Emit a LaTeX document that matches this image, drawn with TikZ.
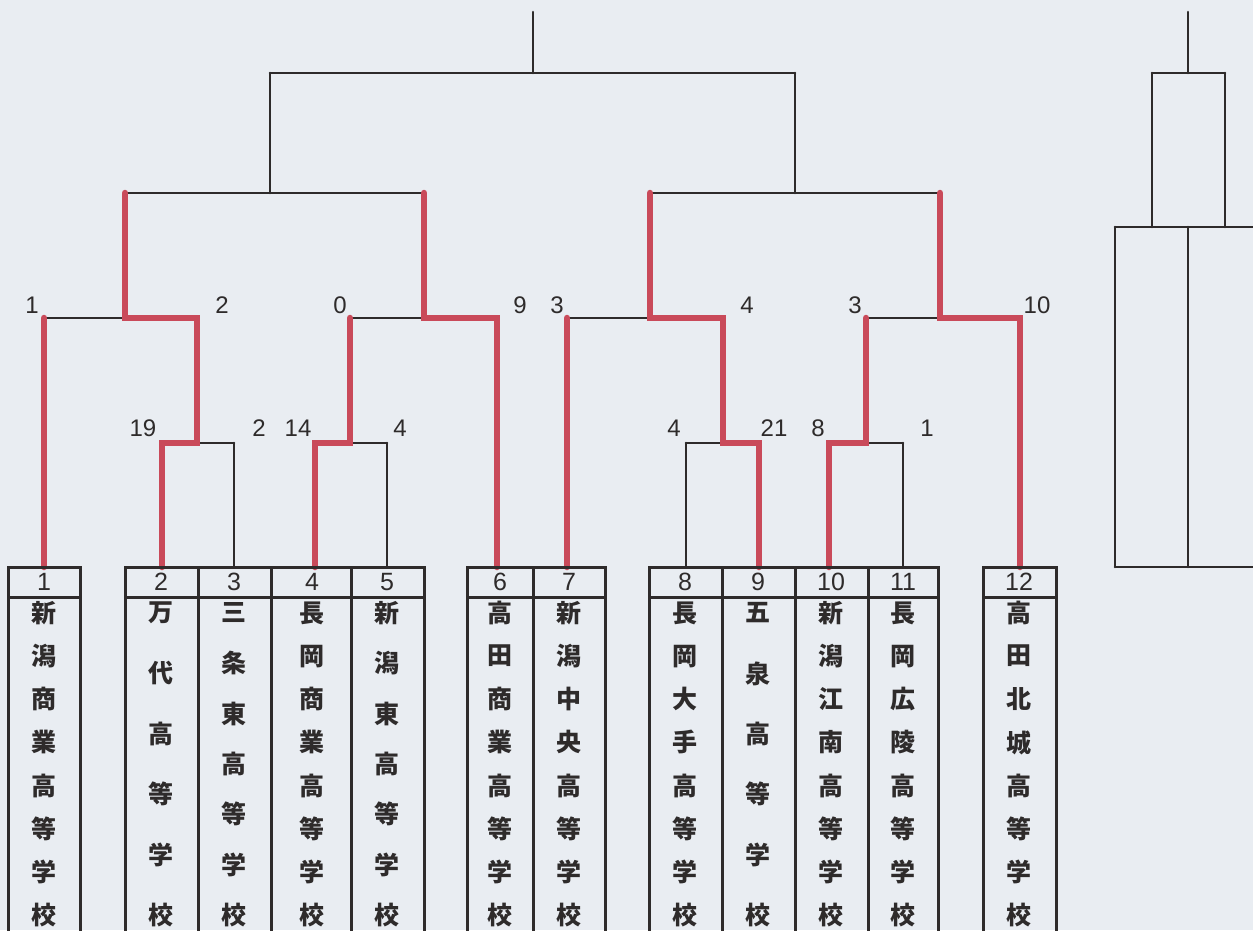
\documentclass[tikz,border=0pt]{standalone}
\usepackage{fontspec}
\setmainfont{Liberation Sans}
\newfontfamily\jpfont{Noto Sans CJK JP}
\usepackage{tikz}
\usepackage{tkz-euclide}

\definecolor{paper}{HTML}{E9EDF2}
\definecolor{winred}{HTML}{C94A5A}
\definecolor{ink}{HTML}{2E2B2B}

\tikzset{
  bracket/.style={draw=ink,line width=2.6pt},
  winpath/.style={draw=winred,line width=6.5pt},
  boxline/.style={draw=ink,line width=3pt},
  score/.style={font=\fontsize{24}{24}\selectfont,text=ink,inner sep=0pt},
  seednum/.style={font=\fontsize{25}{25}\selectfont,text=ink,inner sep=0pt},
  namechar/.style={font=\jpfont\bfseries\fontsize{25}{25}\selectfont,text=ink,inner sep=0pt}
}

% one school name, written top to bottom in its column
\newcommand{\schoolname}[4]{%
  \foreach \c [count=\i] in {#4}{%
    \node[namechar] (#1c\i) at (#2,{613+(\i-1)*302/(#3-1)}) {\c};}}

\begin{document}
\begin{tikzpicture}[x=1pt,y=-1pt]
                \useasboundingbox (0,0) rectangle (1253,930);
                \fill[paper] (0,0) rectangle (1253,930);

                % final and semi-finals
                \tkzDefPoint(533,12){T0}
                \tkzDefPoint(533,73){T1}
                \tkzDefPoint(270,73){TL}
                \tkzDefPoint(795,73){TR}
                \tkzDefPoint(270,193){TLd}
                \tkzDefPoint(795,193){TRd}
                \tkzDefPoint(125,193){SLa}
                \tkzDefPoint(424,193){SLb}
                \tkzDefPoint(650,193){SRa}
                \tkzDefPoint(940,193){SRb}

                % quarter-finals
                \tkzDefPoint(44,318){QAa}
                \tkzDefPoint(125,318){QAm}
                \tkzDefPoint(197,318){QAb}
                \tkzDefPoint(350,318){QBa}
                \tkzDefPoint(424,318){QBm}
                \tkzDefPoint(497,318){QBb}
                \tkzDefPoint(567,318){QCa}
                \tkzDefPoint(650,318){QCm}
                \tkzDefPoint(723,318){QCb}
                \tkzDefPoint(866,318){QDa}
                \tkzDefPoint(940,318){QDm}
                \tkzDefPoint(1020,318){QDb}

                % first round
                \tkzDefPoint(162,443){RAa}
                \tkzDefPoint(197,443){RAm}
                \tkzDefPoint(234,443){RAb}
                \tkzDefPoint(315,443){RBa}
                \tkzDefPoint(350,443){RBm}
                \tkzDefPoint(387,443){RBb}
                \tkzDefPoint(686,443){RCa}
                \tkzDefPoint(723,443){RCm}
                \tkzDefPoint(759,443){RCb}
                \tkzDefPoint(829,443){RDa}
                \tkzDefPoint(866,443){RDm}
                \tkzDefPoint(903,443){RDb}

                % tops of the school columns
                \tkzDefPoint(44,567){E1}
                \tkzDefPoint(162,567){E2}
                \tkzDefPoint(234,567){E3}
                \tkzDefPoint(315,567){E4}
                \tkzDefPoint(387,567){E5}
                \tkzDefPoint(497,567){E6}
                \tkzDefPoint(567,567){E7}
                \tkzDefPoint(686,567){E8}
                \tkzDefPoint(759,567){E9}
                \tkzDefPoint(829,567){E10}
                \tkzDefPoint(903,567){E11}
                \tkzDefPoint(1020,567){E12}

                \tkzDrawSegments[bracket](T0,T1 TL,TR TL,TLd TR,TRd)
                \tkzDrawSegments[bracket](SLa,SLb SRa,SRb)
                \tkzDrawSegments[bracket](QAa,QAm QBa,QBm QCa,QCm QDa,QDm)
                \tkzDrawSegments[bracket](RAm,RAb RBm,RBb RCa,RCm RDm,RDb)
                \tkzDrawSegments[bracket](RAb,E3 RBb,E5 RCa,E8 RDb,E11)

                \tkzDrawPolySeg[winpath](SLa,QAm,QAb,RAm,RAa,E2)
                \tkzDrawSegments[winpath](QAa,E1)
                \tkzDrawPolySeg[winpath](SLb,QBm,QBb,E6)
                \tkzDrawPolySeg[winpath](QBa,RBm,RBa,E4)
                \tkzDrawPolySeg[winpath](SRa,QCm,QCb,RCm,RCb,E9)
                \tkzDrawSegments[winpath](QCa,E7)
                \tkzDrawPolySeg[winpath](SRb,QDm,QDb,E12)
                \tkzDrawPolySeg[winpath](QDa,RDm,RDa,E10)

                % scores
                \node[score] (s1) at (32,305) {1};
                \node[score] (s2) at (222,305) {2};
                \node[score] (s3) at (340,305) {0};
                \node[score] (s4) at (520,305) {9};
                \node[score] (s5) at (557,305) {3};
                \node[score] (s6) at (747,305) {4};
                \node[score] (s7) at (855,305) {3};
                \node[score] (s8) at (1037,305) {10};
                \node[score] (s9) at (143,428) {19};
                \node[score] (s10) at (259,428) {2};
                \node[score] (s11) at (298,428) {14};
                \node[score] (s12) at (400,428) {4};
                \node[score] (s13) at (674,428) {4};
                \node[score] (s14) at (774,428) {21};
                \node[score] (s15) at (818,428) {8};
                \node[score] (s16) at (927,428) {1};

                % school columns
                \foreach \a/\b in {8/80,125/424,467/605,649/938,983/1056}{
                  \draw[boxline] (\a,940) -- (\a,567) -- (\b,567) -- (\b,940);
                  \draw[boxline] (\a,597) -- (\b,597);
                }
                \foreach \s in {198,271,351,533,722,795,868}
                  \draw[boxline] (\s,567) -- (\s,940);

                \foreach \x/\n in {44/1,161/2,234/3,312/4,387/5,500/6,569/7,685/8,758/9,831/10,903/11,1019/12}
                  \node[seednum] (seed\n) at (\x,582) {\n};

                \schoolname{a}{44}{8}{新,潟,商,業,高,等,学,校}
                \schoolname{b}{161}{6}{万,代,高,等,学,校}
                \schoolname{c}{234}{7}{三,条,東,高,等,学,校}
                \schoolname{d}{312}{8}{長,岡,商,業,高,等,学,校}
                \schoolname{e}{387}{7}{新,潟,東,高,等,学,校}
                \schoolname{f}{500}{8}{高,田,商,業,高,等,学,校}
                \schoolname{g}{569}{8}{新,潟,中,央,高,等,学,校}
                \schoolname{h}{685}{8}{長,岡,大,手,高,等,学,校}
                \schoolname{i}{758}{6}{五,泉,高,等,学,校}
                \schoolname{j}{831}{8}{新,潟,江,南,高,等,学,校}
                \schoolname{k}{903}{8}{長,岡,広,陵,高,等,学,校}
                \schoolname{l}{1019}{8}{高,田,北,城,高,等,学,校}

                % second bracket at the right
                \tkzDefPoint(1188,12){U0}
                \tkzDefPoint(1188,73){U1}
                \tkzDefPoint(1152,73){UL}
                \tkzDefPoint(1225,73){UR}
                \tkzDefPoint(1152,227){ULd}
                \tkzDefPoint(1225,227){URd}
                \tkzDefPoint(1115,227){V0}
                \tkzDefPoint(1188,227){V1}
                \tkzDefPoint(1260,227){V2}
                \tkzDefPoint(1115,567){W0}
                \tkzDefPoint(1188,567){W1}
                \tkzDefPoint(1260,567){W2}
                \tkzDrawSegments[bracket](U0,U1 UL,UR UL,ULd UR,URd)
                \tkzDrawSegments[bracket](V0,V2 V0,W0 V1,W1 W0,W2)

            \end{tikzpicture}
\end{document}
